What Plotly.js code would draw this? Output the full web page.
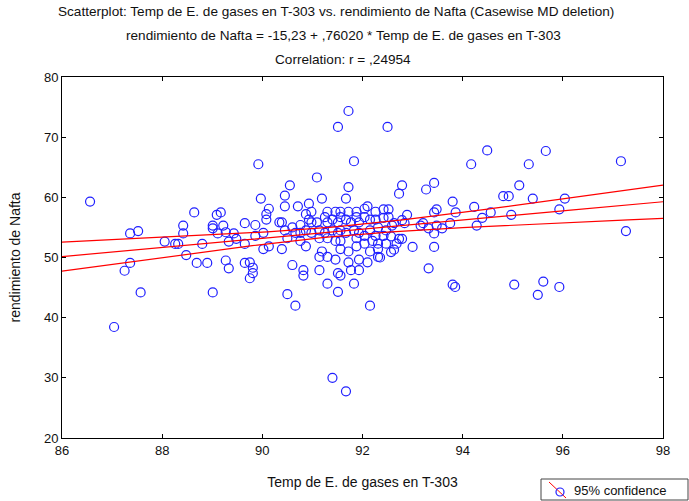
<!DOCTYPE html>
<html><head><meta charset="utf-8">
<script src="https://cdn.plot.ly/plotly-3.0.1.min.js"></script>
<style>body{margin:0;background:#fff}#chart{width:689px;height:501px}</style>
</head><body><div id="chart"></div>
<script>
// Temp de E. de gases en T-303
const tempX = [
86.56,87.04,88.64,89.09,89.17,89.01,89.01,89.22,88.42,88.42,87.52,87.36,88.05,88.26,88.32,88.48,88.80,89.11,89.27,89.43,
89.33,89.48,89.65,89.65,87.36,87.25,88.69,88.90,89.27,89.33,89.65,87.57,89.01,
91.72,91.51,92.50,89.92,91.83,91.09,90.55,91.72,94.49,94.17,95.32,92.79,93.43,93.27,95.13,95.66,97.16,95.40,96.04,95.93,97.26,95.61,95.93,95.50,
92.73,93.80,94.81,94.92,94.23,93.43,93.48,93.86,94.56,94.39,94.97,94.28,93.75,93.59,93.43,93.48,93.16,93.21,93.32,93.43,93.00,93.32,93.80,93.85,95.03,
92.42,92.52,92.42,92.63,92.59,92.79,92.84,92.89,92.57,92.73,92.79,92.68,92.63,92.57,92.35,
89.97,90.45,91.19,91.67,90.45,90.71,90.93,90.13,90.08,90.98,90.87,91.30,91.46,91.56,91.72,91.88,92.10,92.04,92.26,
90.08,89.86,90.34,90.39,90.60,90.76,90.93,90.98,91.09,91.25,91.30,91.40,91.51,91.56,91.67,91.77,91.88,91.93,92.04,92.15,92.26,92.52,
89.86,90.02,90.45,90.66,90.76,90.87,90.50,90.76,90.98,91.14,91.25,91.14,91.30,91.40,91.51,91.56,91.46,91.56,91.67,91.83,91.93,91.88,92.04,
92.15,92.31,92.47,92.26,92.42,92.04,92.20,92.31,92.47,90.39,90.13,90.02,90.87,91.19,91.56,91.72,91.88,92.15,92.31,
89.75,89.81,89.81,89.75,91.14,91.30,91.46,90.60,90.82,90.82,91.14,91.72,91.93,92.10,91.77,91.93,91.51,91.56,91.30,91.83,91.51,90.50,92.31,
90.66,92.15,91.40,91.67
];
// rendimiento de Nafta
const yieldY = [
59.3,38.45,57.5,57.1,57.5,55.3,54.85,55.3,55.3,54.0,54.4,54.0,52.65,52.25,52.25,50.4,52.25,54.0,54.2,54.0,
52.65,53.1,55.7,52.25,49.1,47.8,49.1,49.1,49.5,48.2,49.1,44.2,44.2,
74.35,71.7,71.7,65.5,66.0,63.3,62.0,61.7,67.8,65.5,65.5,62.0,62.4,61.3,62.0,67.7,66.0,59.8,59.8,58.0,54.4,46.0,45.1,43.8,
60.6,59.3,60.2,60.2,58.4,57.5,58.0,57.5,57.5,56.6,57.1,55.3,55.7,54.85,54.0,55.3,55.3,55.7,54.85,51.75,51.75,48.2,45.5,45.1,45.5,
58.0,58.0,56.6,55.7,55.3,56.2,55.7,57.1,53.5,53.1,53.1,52.3,51.3,50.9,50.0,
59.8,60.3,59.8,59.8,58.5,58.5,58.95,58.1,57.2,57.6,57.2,57.6,57.6,57.6,57.6,57.6,58.5,58.1,57.6,
56.3,55.4,55.85,55.85,55.0,55.4,56.3,55.85,55.85,56.7,55.85,56.3,55.85,56.7,56.3,55.85,56.7,55.85,56.7,56.3,56.3,56.7,
53.6,54.1,54.5,54.1,54.1,54.5,53.2,52.75,54.1,54.5,54.1,53.2,53.2,54.5,54.1,54.5,52.75,52.75,54.1,54.5,54.1,53.2,53.6,
54.5,55.0,54.5,53.6,53.6,52.3,52.75,52.3,52.3,51.4,51.85,51.4,51.85,51.0,51.4,51.0,51.85,51.0,50.1,
49.2,48.3,47.4,46.55,50.1,50.1,49.65,48.75,47.9,47.0,47.9,49.2,49.65,49.2,47.9,47.9,47.4,47.0,45.65,45.65,44.3,43.9,51.4,
42.0,42.0,30.0,27.75
];
const intercept = -15.23;
const slope = 0.76020;
const confLevelT = 1.97;
const xTicks = [86, 88, 90, 92, 94, 96, 98];
const yTicks = [20, 30, 40, 50, 60, 70, 80];
const titleLines = [
  "Scatterplot: Temp de E. de gases en T-303 vs. rendimiento de Nafta (Casewise MD deletion)",
  "rendimiento de Nafta = -15,23 + ,76020 * Temp de E. de gases en T-303",
  "Correlation: r = ,24954"
];

// regression statistics from the data
const n = tempX.length;
const xbar = tempX.reduce((a,b)=>a+b,0)/n;
let sxx = 0, sse = 0;
for (let i=0;i<n;i++){ sxx += (tempX[i]-xbar)**2; const r = yieldY[i]-(intercept+slope*tempX[i]); sse += r*r; }
const s = Math.sqrt(sse/(n-2));
const gx = [], fit = [], up = [], lo = [];
for (let v = xTicks[0]; v <= xTicks[xTicks.length-1]+1e-9; v += 0.1) {
  const yh = intercept + slope*v;
  const h = confLevelT*s*Math.sqrt(1/n + (v-xbar)**2/sxx);
  gx.push(v); fit.push(yh); up.push(yh+h); lo.push(yh-h);
}

const FONT = "Liberation Sans, Arial, sans-serif";
const lineStyle = {color:'#ff0000', width:1.2};
const traces = [
  {x: tempX, y: yieldY, type:'scatter', mode:'markers', cliponaxis:true,
   marker:{symbol:'circle-open', size:9, color:'#1f1fff', line:{width:1.2, color:'#1f1fff'}}},
  {x: gx, y: up, type:'scatter', mode:'lines', line: lineStyle},
  {x: gx, y: fit, type:'scatter', mode:'lines', line: lineStyle},
  {x: gx, y: lo, type:'scatter', mode:'lines', line: lineStyle}
];

const L = 62, T = 77, W = 601, H = 361;
const px = v => (v - L)/W, py = v => (T + H - v)/H;
const tFont = {family:FONT, size:13.6, color:'#111'};

const axisCommon = {showgrid:false, zeroline:false, showline:true, linecolor:'#000', linewidth:1,
  mirror:'ticks', ticks:'inside', ticklen:4, tickcolor:'#000', automargin:false,
  tickfont:{family:FONT, size:13, color:'#111'}};

const layout = {
  width:689, height:501, margin:{l:L, r:689-L-W, t:T, b:501-T-H},
  paper_bgcolor:'#fff', plot_bgcolor:'#fff', showlegend:false,
  font:{family:FONT, size:13, color:'#111'},
  xaxis: Object.assign({}, axisCommon, {range:[86,98], tickvals:xTicks, ticktext:xTicks.map(String),
    title:{text:'Temp de E. de gases en T-303', standoff:20, font:{family:FONT, size:14, color:'#111'}}}),
  yaxis: Object.assign({}, axisCommon, {range:[20,80], tickvals:yTicks, ticktext:yTicks.map(String),
    title:{text:'rendimiento de Nafta', standoff:20, font:{family:FONT, size:14, color:'#111'}}}),
  annotations: [
    {text:titleLines[0], xref:'paper', yref:'paper', x:px(336), y:py(12), showarrow:false, xanchor:'center', yanchor:'middle', font:tFont},
    {text:titleLines[1], xref:'paper', yref:'paper', x:px(343), y:py(36), showarrow:false, xanchor:'center', yanchor:'middle', font:tFont},
    {text:titleLines[2], xref:'paper', yref:'paper', x:px(343), y:py(59), showarrow:false, xanchor:'center', yanchor:'middle', font:tFont},
    {text:'95% confidence', xref:'paper', yref:'paper', x:px(572), y:py(490), showarrow:false, xanchor:'left', yanchor:'middle', font:{family:FONT,size:13,color:'#111'}}
  ],
  shapes: [
    {type:'rect', xref:'paper', yref:'paper', x0:px(541), x1:px(688), y0:py(500), y1:py(479), line:{color:'#444', width:1}, fillcolor:'rgba(0,0,0,0)'},
    {type:'line', xref:'paper', yref:'paper', x0:px(549), y0:py(482), x1:px(566), y1:py(498), line:{color:'#ff0000', width:1}},
    {type:'circle', xref:'paper', yref:'paper', x0:px(556), x1:px(564), y0:py(496), y1:py(488), line:{color:'#1f1fff', width:1.2}}
  ]
};
Plotly.newPlot('chart', traces, layout, {staticPlot:true, displayModeBar:false});
</script></body></html>
